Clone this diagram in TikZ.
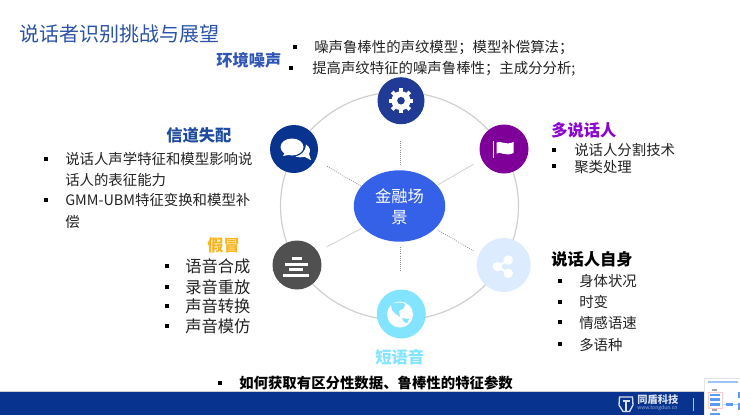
\documentclass[tikz,border=0pt]{standalone}
\usepackage{fontspec}
\setmainfont{Noto Sans CJK SC}
\usepackage{tikz}
\definecolor{titleblue}{HTML}{2A52A8}
\definecolor{noiseblue}{HTML}{2F55B8}
\definecolor{channelblue}{HTML}{1F4BA0}
\definecolor{barblue}{HTML}{08338F}
\definecolor{gearblue}{HTML}{203A96}
\definecolor{centerblue}{HTML}{3560E8}
\definecolor{flagpurple}{HTML}{7F0098}
\definecolor{headpurple}{HTML}{8A05D0}
\definecolor{spoofgold}{HTML}{FBB41C}
\definecolor{darkgrey}{HTML}{505050}
\definecolor{sharepale}{HTML}{DCEBFE}
\definecolor{globecyan}{HTML}{83E4FF}
\definecolor{ringgrey}{HTML}{CFCFCF}
\definecolor{bodygrey}{HTML}{222222}
\definecolor{thumbblue}{HTML}{5B9CF0}
\tikzset{
  bodytext/.style={anchor=west,inner sep=0.75pt,text=bodygrey,font=\fontsize{10.8}{13}\selectfont},
  bigtext/.style={anchor=west,inner sep=0.75pt,text=bodygrey,font=\fontsize{12.2}{14}\selectfont},
  headtext/.style={anchor=west,inner sep=0.75pt,font=\bfseries\fontsize{12.2}{14}\selectfont},
  bulletbox/.style={fill=black,inner sep=0pt,minimum size=2.8pt},
  spoke/.style={line width=0.6pt,ringgrey},
  dottedspoke/.style={line width=0.6pt,densely dotted,black!45},
}
\begin{document}
\begin{tikzpicture}[x=0.75pt,y=0.75pt,yscale=-1,xscale=1]
\useasboundingbox (0,0) rectangle (740,415);

%Footer bar
\fill [barblue] (0,392) rectangle (740,415);
\draw [black!20,line width=0.5pt] (0,391.7) -- (740,391.7);

%Ring
\draw [ringgrey,line width=0.9pt] (399.5,206) ellipse [x radius=119,y radius=114];

%Spokes
\coordinate (topa) at (400,141);
\coordinate (topb) at (400,165);
\coordinate (urighta) at (437.7,185);
\coordinate (urightb) at (473.3,164.3);
\coordinate (ulefta) at (361,186);
\coordinate (uleftb) at (326.7,166);
\coordinate (llefta) at (361.7,228.3);
\coordinate (lleftb) at (326.7,247);
\coordinate (lrighta) at (437.7,230);
\coordinate (lrightb) at (473.3,250.7);
\coordinate (bota) at (400,247);
\coordinate (botb) at (400,271);
\draw [dottedspoke] (topa) -- (topb) ;
\draw [spoke] (urighta) -- (urightb) ;
\draw [dottedspoke] (ulefta) -- (uleftb) ;
\draw [spoke] (llefta) -- (lleftb) ;
\draw [dottedspoke] (lrighta) -- (lrightb) ;
\draw [dottedspoke] (bota) -- (botb) ;

%Centre ellipse
\fill [centerblue] (399.5,206) ellipse [x radius=45.7,y radius=35.7];
\draw (399.5,207) node (centre) [inner sep=0.75pt,align=center,text=white,font=\fontsize{12.2}{15.6}\selectfont] {金融场\\景};

%Gear icon
\fill [gearblue] (401,100.7) circle [radius=23.5];
\draw [white,line width=2.8pt] (401,88.3) -- (401,113.1) ;
\draw [white,line width=2.8pt] (388.6,100.7) -- (413.4,100.7) ;
\draw [white,line width=2.8pt] (392.2,91.9) -- (409.8,109.5) ;
\draw [white,line width=2.8pt] (392.2,109.5) -- (409.8,91.9) ;
\fill [white] (401,100.7) circle [radius=9.5];
\fill [gearblue] (401,100.7) circle [radius=3.8];

%Flag icon
\fill [flagpurple] (504,149) circle [radius=24.5];
\draw [white,line width=1pt] (493.8,141) -- (493.8,157.5) ;
\fill [white] (496.5,142.5) .. controls (501,140) and (505,146) .. (513.5,142) -- (513.5,153) .. controls (505,157) and (501,151) .. (496.5,153.5) -- cycle ;

%Chat icon
\fill [barblue] (294,149) circle [radius=24];
\fill [white] (306,144.5) .. controls (310,147) and (311,151) .. (309,154) -- (311,160) -- (304.5,156.8) .. controls (302,157.5) and (298,157.5) .. (295.5,156.5) .. controls (301,155.5) and (306,151) .. (306,144.5) -- cycle ;
\fill [white] (292,147) ellipse [x radius=11.5,y radius=8.5];
\fill [white] (285,152) -- (283,156) -- (291,154.5) -- cycle ;

%Bars icon
\fill [darkgrey] (297,265) circle [radius=24.5];
\fill [white] (291.7,256.5) rectangle (301.7,259.5);
\fill [white] (285,262.5) rectangle (307.7,265.5);
\fill [white] (289,268) rectangle (303,271);
\fill [white] (283,273.5) rectangle (309,276.5);

%Share icon
\fill [sharepale] (503.7,265) circle [radius=27];
\draw [white,line width=1.6pt] (508.3,260) -- (497.3,266.7) -- (508.3,273.3) ;
\fill [white] (508.3,260) circle [radius=4.7];
\fill [white] (497.3,266.7) circle [radius=4.7];
\fill [white] (508.3,273.3) circle [radius=4.7];

%Globe icon
\fill [globecyan] (401.3,314) circle [radius=24.5];
\fill [white] (400,314.5) circle [radius=13];
\fill [globecyan] (391,305) .. controls (394,302) and (402,302) .. (405,304) -- (404,308) -- (399,311) -- (400,317) -- (396,314) -- (392,310) -- cycle ;
\fill [globecyan] (402,318) -- (409,319) -- (407,323) -- (404,322) -- cycle ;

%Headings
\draw (18,34) node (title) [anchor=west,inner sep=0.75pt,text=titleblue,font=\fontsize{15}{18}\selectfont] {说话者识别挑战与展望};
\draw (215,60) node (noisehead) [headtext,text=noiseblue] {环境噪声};
\draw (165,135) node (channelhead) [headtext,text=channelblue] {信道失配};
\draw (206,245) node (spoofhead) [headtext,text=spoofgold] {假冒};
\draw (550,130) node (multihead) [headtext,text=headpurple] {多说话人};
\draw (550,259) node (selfhead) [headtext,text=black] {说话人自身};
\draw (374,357) node (shorthead) [headtext,text=globecyan] {短语音};

%Noise list
\draw (295,47) node (noiseb1) [bulletbox] {};
\draw (291,68) node (noiseb2) [bulletbox] {};
\draw (313,48) node (noise1) [bodytext] {噪声鲁棒性的声纹模型；模型补偿算法；};
\draw (311,69) node (noise2) [bodytext] {提高声纹特征的噪声鲁棒性；主成分分析;};

%Channel list
\draw (46,159) node (channelb1) [bulletbox] {};
\draw (46,200) node (channelb2) [bulletbox] {};
\draw (64,159) node (channel1) [bodytext] {说话人声学特征和模型影响说};
\draw (64,180) node (channel2) [bodytext] {话人的表征能力};
\draw (64,200) node (channel3) [bodytext] {GMM-UBM特征变换和模型补};
\draw (64,222) node (channel4) [bodytext] {偿};

%Spoof list
\draw (167,266) node (spoofb1) [bulletbox] {};
\draw (167,287) node (spoofb2) [bulletbox] {};
\draw (167,306) node (spoofb3) [bulletbox] {};
\draw (167,326) node (spoofb4) [bulletbox] {};
\draw (184,266) node (spoof1) [bigtext] {语音合成};
\draw (184,287) node (spoof2) [bigtext] {录音重放};
\draw (184,306) node (spoof3) [bigtext] {声音转换};
\draw (184,326) node (spoof4) [bigtext] {声音模仿};

%Multi speaker list
\draw (554,150) node (multib1) [bulletbox] {};
\draw (554,166) node (multib2) [bulletbox] {};
\draw (573,150) node (multi1) [bodytext] {说话人分割技术};
\draw (573,167) node (multi2) [bodytext] {聚类处理};

%Speaker self list
\draw (560,281) node (selfb1) [bulletbox] {};
\draw (560,302) node (selfb2) [bulletbox] {};
\draw (560,322) node (selfb3) [bulletbox] {};
\draw (560,344) node (selfb4) [bulletbox] {};
\draw (578,281) node (self1) [bodytext] {身体状况};
\draw (578,302) node (self2) [bodytext] {时变};
\draw (578,323) node (self3) [bodytext] {情感语速};
\draw (578,345) node (self4) [bodytext] {多语种};

%Bottom line
\draw (220,383) node (bottomb) [bulletbox] {};
\draw (238,383) node (bottom) [bodytext,text=black,font=\bfseries\fontsize{10.8}{13}\selectfont] {如何获取有区分性数据、鲁棒性的特征参数};

%Logo
\draw [white!85!barblue,line width=1pt] (619.5,397) -- (632.5,397) -- (633,405) -- (629.5,411.5) -- (623,411.5) -- (619,405) -- cycle ;
\draw [white!85!barblue,line width=1pt] (622.5,401) -- (629.5,401) (626,401) -- (626,411) ;
\draw (637,400) node (logotext) [anchor=west,inner sep=0pt,text=white!85!barblue,font=\bfseries\fontsize{7.7}{8}\selectfont] {同盾科技};
\draw (637,408.5) node (logourl) [anchor=west,inner sep=0pt,text=white!60!barblue,font=\fontsize{3.8}{4}\selectfont] {www.tongdun.cn};
\draw [white!70!barblue,line width=0.6pt] (693,398) -- (693,411) ;

%Thumbnail
\fill [white] (704,378) rectangle (740,415);
\draw [black!10,line width=0.5pt] (704,415) -- (704,378) -- (740,378) ;
\draw [thumbblue!60,line width=0.9pt] (708,382) -- (738,382) ;
\draw [black!35,line width=0.8pt] (712,390) -- (717,390) ;
\draw [red!20,line width=0.4pt] (708,392) rectangle (722,408) ;
\fill [thumbblue] (710,394) rectangle (720,396);
\fill [thumbblue] (710,398) rectangle (720,400.5);
\fill [thumbblue] (710,403) rectangle (720,405.5);
\draw [thumbblue!40,line width=0.4pt] (722,404) -- (726,404) (733,404) -- (738,404) ;
\fill [thumbblue] (726,403) rectangle (733,406);
\fill [thumbblue] (738,392) rectangle (740,398);
\fill [thumbblue] (738,403) rectangle (740,410);
\draw [black!35,line width=0.8pt] (712,410) -- (717,410) ;
\fill [thumbblue] (710,412.5) rectangle (720,415);

\end{tikzpicture}
\end{document}
